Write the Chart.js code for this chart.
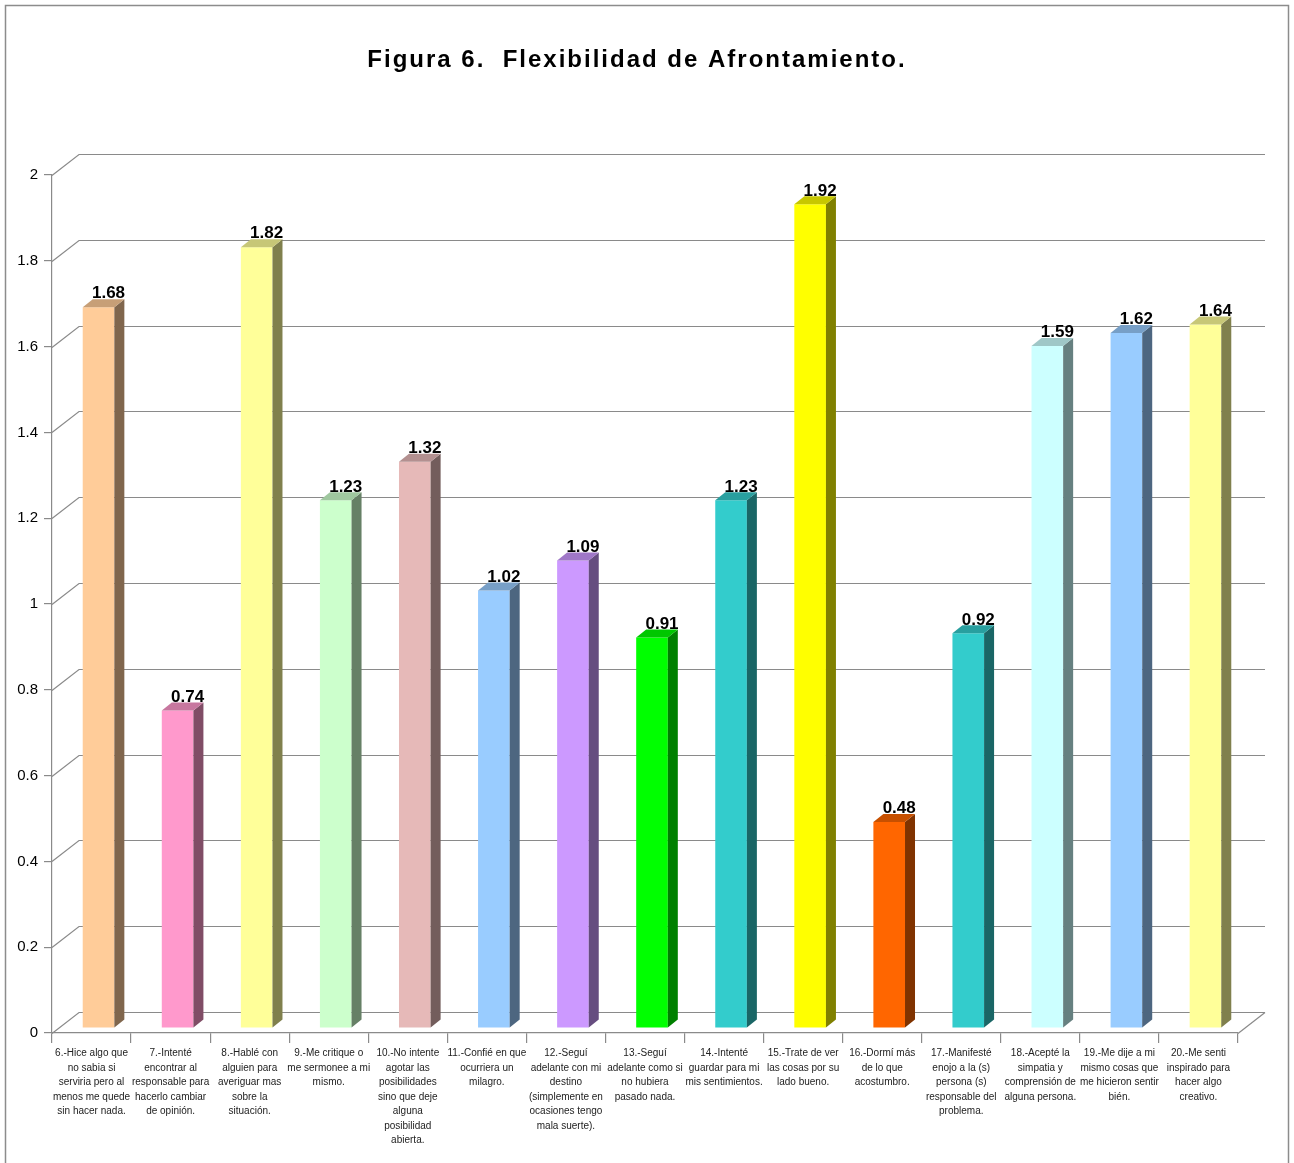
<!DOCTYPE html>
<html>
<head>
<meta charset="utf-8">
<script src="https://cdn.jsdelivr.net/npm/chart.js@4.4.1/dist/chart.umd.min.js"></script>
<style>
  html, body { margin: 0; padding: 0; background: #fff; }
  #wrap { width: 1294px; height: 1163px; }
</style>
</head>
<body>
<div id="wrap"><canvas id="flex" width="1294" height="1163"></canvas></div>
<script>
// Figura 6 data
const titleText = 'Figura 6.  Flexibilidad de Afrontamiento.';
const categories = [
    ['6.-Hice algo que', 'no sabia si', 'serviria pero al', 'menos me quede', 'sin hacer nada.'],
    ['7.-Intenté', 'encontrar al', 'responsable para', 'hacerlo cambiar', 'de opinión.'],
    ['8.-Hablé con', 'alguien para', 'averiguar mas', 'sobre la', 'situación.'],
    ['9.-Me critique o', 'me sermonee a mi', 'mismo.'],
    ['10.-No intente', 'agotar las', 'posibilidades', 'sino que deje', 'alguna', 'posibilidad', 'abierta.'],
    ['11.-Confié en que', 'ocurriera un', 'milagro.'],
    ['12.-Seguí', 'adelante con mi', 'destino', '(simplemente en', 'ocasiones tengo', 'mala suerte).'],
    ['13.-Seguí', 'adelante como si', 'no hubiera', 'pasado nada.'],
    ['14.-Intenté', 'guardar para mi', 'mis sentimientos.'],
    ['15.-Trate de ver', 'las cosas por su', 'lado bueno.'],
    ['16.-Dormí más', 'de lo que', 'acostumbro.'],
    ['17.-Manifesté', 'enojo a la (s)', 'persona (s)', 'responsable del', 'problema.'],
    ['18.-Acepté la', 'simpatia y', 'comprensión de', 'alguna persona.'],
    ['19.-Me dije a mi', 'mismo cosas que', 'me hicieron sentir', 'bién.'],
    ['20.-Me senti', 'inspirado para', 'hacer algo', 'creativo.']
];
const values = [1.68, 0.74, 1.82, 1.23, 1.32, 1.02, 1.09, 0.91, 1.23, 1.92, 0.48, 0.92, 1.59, 1.62, 1.64];
const barColors = ['#FFCC99', '#FF99CC', '#FFFF99', '#CCFFCC', '#E6B9B8', '#99CCFF', '#CC99FF', '#00FF00',
                   '#33CCCC', '#FFFF00', '#FF6600', '#33CCCC', '#CCFFFF', '#99CCFF', '#FFFF99'];
const yMin = 0, yMax = 2, yStep = 0.2;

// depth of the back wall and of the bars (pixels)
const WALL_DX = 27, WALL_DY = -21;
const BAR_SHIFT_X = 7, BAR_SHIFT_Y = -5;
const BAR_DX = 10, BAR_DY = -8;

function shade(hex, f) {
    const n = parseInt(hex.slice(1), 16);
    const r = Math.round(((n >> 16) & 255) * f);
    const g = Math.round(((n >> 8) & 255) * f);
    const b = Math.round((n & 255) * f);
    return 'rgb(' + r + ',' + g + ',' + b + ')';
}

const wallPlugin = {
    id: 'wall3d',
    beforeDraw(chart) {
        const ctx = chart.ctx;
        const { left, right } = chart.chartArea;
        const y = chart.scales.y;
        ctx.save();
        ctx.fillStyle = '#fff';
        ctx.fillRect(0, 0, chart.width, chart.height);
        // outer frame
        ctx.strokeStyle = '#8c8c8c';
        ctx.lineWidth = 1.5;
        ctx.strokeRect(5.5, 5.5, 1283, 1300);
        // title
        ctx.fillStyle = '#000';
        ctx.font = 'bold 24px "Liberation Sans", Arial, sans-serif';
        ctx.letterSpacing = '2px';
        ctx.textAlign = 'center';
        ctx.textBaseline = 'middle';
        ctx.fillText(titleText, 637, 60);
        ctx.letterSpacing = '0px';
        // back wall gridlines and left wall diagonals
        ctx.strokeStyle = '#8a8a8a';
        ctx.lineWidth = 1.2;
        for (let v = yMin; v <= yMax + 1e-9; v += yStep) {
            const py = Math.round(y.getPixelForValue(v)) + 0.5;
            ctx.beginPath();
            ctx.moveTo(left, py);
            ctx.lineTo(left + WALL_DX, py + WALL_DY);
            ctx.lineTo(right + WALL_DX, py + WALL_DY);
            ctx.stroke();
        }
        // floor right edge
        const p0 = Math.round(y.getPixelForValue(0)) + 0.5;
        ctx.beginPath();
        ctx.moveTo(right, p0);
        ctx.lineTo(right + WALL_DX, p0 + WALL_DY);
        ctx.stroke();
        ctx.restore();
    },
    beforeDatasetsDraw(chart) {
        chart.ctx.save();
        chart.ctx.translate(BAR_SHIFT_X, BAR_SHIFT_Y);
    },
    afterDatasetsDraw(chart) {
        const ctx = chart.ctx;
        const meta = chart.getDatasetMeta(0);
        meta.data.forEach((bar, i) => {
            const w = bar.width;
            const xl = bar.x - w / 2, xr = bar.x + w / 2;
            const top = bar.y, base = bar.base;
            // side face
            ctx.fillStyle = shade(barColors[i], 0.5);
            ctx.beginPath();
            ctx.moveTo(xr, top);
            ctx.lineTo(xr + BAR_DX, top + BAR_DY);
            ctx.lineTo(xr + BAR_DX, base + BAR_DY);
            ctx.lineTo(xr, base);
            ctx.closePath();
            ctx.fill();
            // top face
            ctx.fillStyle = shade(barColors[i], 0.78);
            ctx.beginPath();
            ctx.moveTo(xl, top);
            ctx.lineTo(xl + BAR_DX, top + BAR_DY);
            ctx.lineTo(xr + BAR_DX, top + BAR_DY);
            ctx.lineTo(xr, top);
            ctx.closePath();
            ctx.fill();
            // value label
            ctx.fillStyle = '#000';
            ctx.font = 'bold 17px "Liberation Sans", Arial, sans-serif';
            ctx.textAlign = 'center';
            ctx.textBaseline = 'bottom';
            ctx.fillText(values[i].toFixed(2), bar.x + 10, top - 5);
        });
        ctx.restore();
    }
};

new Chart(document.getElementById('flex'), {
    type: 'bar',
    data: {
        labels: categories,
        datasets: [{
            data: values,
            backgroundColor: barColors,
            borderWidth: 0,
            categoryPercentage: 1,
            barPercentage: 0.4
        }]
    },
    options: {
        responsive: false,
        animation: false,
        layout: { padding: { left: 0, right: 56, top: 175, bottom: 0 } },
        plugins: {
            legend: { display: false },
            tooltip: { enabled: false },
            title: { display: false }
        },
        scales: {
            x: {
                afterFit(scale) { scale.height = 130; },
                grid: {
                    offset: true,
                    drawOnChartArea: false,
                    tickLength: 10,
                    color: '#8a8a8a',
                    lineWidth: 1.2
                },
                border: { color: '#8a8a8a', width: 1.2 },
                ticks: {
                    autoSkip: false,
                    maxRotation: 0,
                    minRotation: 0,
                    padding: 3,
                    color: '#222',
                    font: { family: '"Liberation Sans Narrow", "Liberation Sans", Arial, sans-serif', size: 10, lineHeight: 1.45 }
                }
            },
            y: {
                min: yMin,
                max: yMax,
                afterFit(scale) { scale.width = 52; },
                grid: {
                    drawOnChartArea: false,
                    tickLength: 8,
                    color: '#8a8a8a',
                    lineWidth: 1.2
                },
                border: { color: '#8a8a8a', width: 1.2 },
                ticks: {
                    stepSize: yStep,
                    padding: 6,
                    color: '#000',
                    font: { family: '"Liberation Sans", Arial, sans-serif', size: 15 },
                    callback: v => Math.round(v * 10) / 10
                }
            }
        }
    },
    plugins: [wallPlugin]
});
</script>
</body>
</html>
